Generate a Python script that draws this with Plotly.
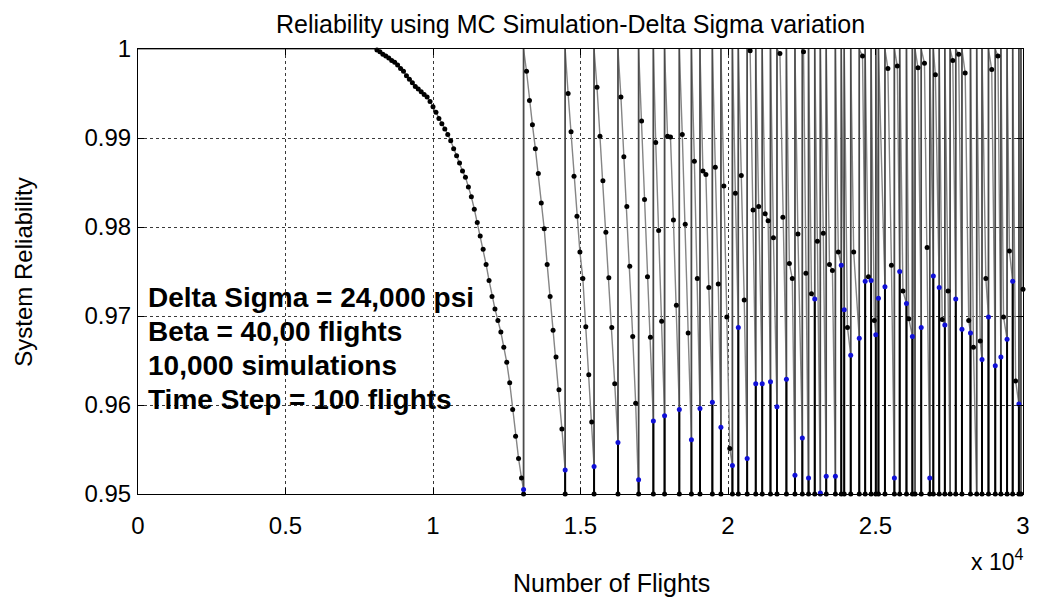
import plotly.graph_objects as go

# ---------------- data ----------------
TIME_STEP = 100          # flights between evaluations
FLOOR = 0.95             # lowest reliability shown / reset threshold

# first cycle: reliability is 1 from flight 0 to 8000, then declines
first_start = 0
first_decline_start = 8000
first_decline = [
    1.0000, 0.9999, 0.9997, 0.9994, 0.9992, 0.9990, 0.9987, 0.9985, 0.9982, 0.9978,
    0.9975, 0.9970, 0.9966, 0.9962, 0.9958, 0.9955, 0.9952, 0.9949, 0.9946, 0.9941,
    0.9935, 0.9929, 0.9922, 0.9916, 0.9910, 0.9904, 0.9897, 0.9888, 0.9880, 0.9872,
    0.9863, 0.9856, 0.9845, 0.9834, 0.9820, 0.9805, 0.9790, 0.9775, 0.9758, 0.9740,
    0.9722, 0.9708, 0.9695, 0.9682, 0.9665, 0.9648, 0.9625, 0.9595, 0.9565, 0.9540,
    0.9518,
]

# flights at which the system is restored (reliability back to 1)
reset_x = [13070, 14480, 15460, 16270, 16970, 17470, 17850, 18350, 18760, 19050,
           19470, 19760, 20150, 20350, 20650, 20940, 21160, 21440, 21660, 21980,
           22270, 22520, 22730, 22940, 23130, 23330, 23640, 23840, 23940, 24160,
           24450, 24650, 24850, 25010, 25100, 25320, 25640, 25820, 26050, 26250,
           26340, 26550, 26840, 26960, 27160, 27350, 27530, 27720, 27930, 28220,
           28430, 28610, 28830, 29060, 29250, 29460, 29650, 29860, 29930]
# reliability reached just before each restore (None = below the axis)
reset_end = [0.9505, 0.9527, 0.9531, 0.9558, 0.9516, 0.9582, 0.9588, 0.9595, 0.9561, 0.9596,
             0.9603, 0.9575, 0.9532, 0.9687, 0.9540, 0.9624, 0.9624, 0.9626, 0.9598, 0.9629,
             0.9521, 0.9563, 0.9518, 0.9719, 0.9501, 0.9520, 0.9520, 0.9757, 0.9707, 0.9656,
             0.9675, 0.9739, 0.9740, 0.9679, 0.9720, 0.9733, 0.9518, 0.9750, 0.9714, 0.9677,
             None, 0.9687, 0.9518, 0.9745, 0.9732, 0.9690, None, 0.9719, 0.9685, 0.9681,
             None, 0.9651, 0.9699, 0.9644, 0.9654, 0.9674, 0.9739, 0.9601, None]

# intermediate evaluations inside the later cycles
dot_x = [13170, 13270, 13370, 13470, 13570, 13670, 13770, 13870, 13970, 14070, 14170, 14270, 14370,
         14580, 14680, 14780, 14880, 14980, 15080, 15180, 15280, 15380,
         15560, 15660, 15760, 15860, 15960, 16060, 16160,
         16370, 16470, 16570, 16670, 16770, 16870,
         17070, 17170, 17270, 17370,
         17550, 17650, 17750,
         17950, 18050, 18150, 18250,
         18450, 18550, 18650,
         18860, 18960,
         19150, 19250, 19350,
         19570, 19670,
         19860, 19960, 20060,
         20250,
         20450, 20550,
         20750, 20850,
         21040,
         21260, 21360,
         21540,
         21760, 21860,
         22080, 22180,
         22370,
         22560, 22640,
         22830, 23030, 23230,
         23440, 23540,
         23740, 24050, 24260, 24560, 24760, 24960,
         25420, 25540, 25740, 25930, 26130,
         26440, 26660, 26750, 27030, 27260, 27460, 27620, 27820,
         28040, 28160, 28320, 28550, 28740, 28940, 29150, 29340, 29540, 29750, 30000]
dot_y = [0.9975, 0.9942, 0.9915, 0.9888, 0.9860, 0.9827, 0.9798, 0.9758, 0.9722, 0.9684, 0.9654, 0.9617, 0.9573,
         0.9950, 0.9907, 0.9857, 0.9812, 0.9772, 0.9742, 0.9688, 0.9634, 0.9581,
         0.9957, 0.9902, 0.9852, 0.9794, 0.9743, 0.9687, 0.9624,
         0.9946, 0.9879, 0.9823, 0.9756, 0.9677, 0.9602,
         0.9919, 0.9831, 0.9744, 0.9676,
         0.9895, 0.9796, 0.9694,
         0.9902, 0.9901, 0.9808, 0.9712,
         0.9904, 0.9803, 0.9681,
         0.9874, 0.9742,
         0.9863, 0.9859, 0.9732,
         0.9867, 0.9736,
         0.9846, 0.9699, 0.9551,
         0.9838,
         0.9858, 0.9718,
         0.9998, 0.9819,
         0.9823,
         0.9815, 0.9807,
         0.9788,
         0.9995, 0.9811,
         0.9759, 0.9742,
         0.9792,
         0.9997, 0.9748,
         0.9725, 0.9784, 0.9793,
         0.9758, 0.9751,
         0.9772, 0.9687, 0.9772, 0.9992, 0.9744, 0.9695,
         0.9978, 0.9757, 0.9981, 0.9728, 0.9697,
         0.9979, 0.9984, 0.9777, 0.9971, 0.9696, 0.9728, 0.9987, 0.9994,
         0.9973, 0.9695, 0.9665, 0.9672, 0.9742, 0.9977, 0.9992, 0.9699, 0.9773, 0.9627, 0.9730]

x_tickvals = [0, 5000, 10000, 15000, 20000, 25000, 30000]
x_ticktext = ["0", "0.5", "1", "1.5", "2", "2.5", "3"]
y_tickvals = [0.95, 0.96, 0.97, 0.98, 0.99, 1.0]
y_ticktext = ["0.95", "0.96", "0.97", "0.98", "0.99", "1"]

title_text = "Reliability using MC Simulation-Delta Sigma variation"
xlabel_text = "Number of Flights"
ylabel_text = "System Reliability"
exponent_text = "x 10<sup>4</sup>"
info_lines = ["Delta Sigma = 24,000 psi", "Beta = 40,00 flights",
              "10,000 simulations", "Time Step = 100 flights"]

# ---------------- build the sawtooth path ----------------
first_x = [first_decline_start + TIME_STEP * i for i in range(len(first_decline))]
path_x = [first_start] + first_x
path_y = [1.0] + first_decline

events = [(x, 0, y) for x, y in zip(dot_x, dot_y)] + \
         [(x, 1, e) for x, e in zip(reset_x, reset_end)]
events.sort(key=lambda e: (e[0], e[1]))
for x, kind, v in events:
    if kind == 0:
        path_x.append(x); path_y.append(v)
    else:
        if v is not None:
            path_x.append(x); path_y.append(v)
        path_x += [x, x]; path_y += [FLOOR, 1.0]

# restore jumps (vertical lines) drawn a little darker
vert_x, vert_y = [], []
for x in reset_x:
    vert_x += [x, x, None]; vert_y += [FLOOR, 1.0, None]

# drop to the floor overlapping the jump: darkest part
seg_x, seg_y = [], []
for x, e in zip(reset_x, reset_end):
    if e is not None:
        seg_x += [x, x, None]; seg_y += [e, FLOOR, None]

blk_x = [x for x, y in zip(first_x, first_decline) if y < 1.0] + dot_x + reset_x
blk_y = [y for y in first_decline if y < 1.0] + dot_y + [FLOOR] * len(reset_x)
blue_x = [x for x, e in zip(reset_x, reset_end) if e is not None]
blue_y = [e for e in reset_end if e is not None]

FONT = "Liberation Sans, Arial, sans-serif"

fig = go.Figure()
fig.add_trace(go.Scatter(x=path_x, y=path_y, mode="lines",
                         line=dict(color="#858585", width=1.4), hoverinfo="skip"))
fig.add_trace(go.Scatter(x=vert_x, y=vert_y, mode="lines",
                         line=dict(color="#4a4a4a", width=1.6), hoverinfo="skip"))
fig.add_trace(go.Scatter(x=seg_x, y=seg_y, mode="lines",
                         line=dict(color="#000000", width=2.0), hoverinfo="skip"))
fig.add_trace(go.Scatter(x=blk_x, y=blk_y, mode="markers", cliponaxis=False,
                         marker=dict(color="#000000", size=5, symbol="circle")))
fig.add_trace(go.Scatter(x=blue_x, y=blue_y, mode="markers", cliponaxis=False,
                         marker=dict(color="#1010d8", size=5, symbol="circle")))

# page is offset by the 8px body margin -> figure is 8px smaller
OFF = 8
W, H = 1042 - OFF, 597 - OFF
PL, PR, PT, PB = 138, 1028, 49, 494          # plot area in page pixels
L, R, T, B = PL - OFF, W - (PR - OFF), PT - OFF, H - (PB - OFF)
pw, ph = PR - PL, PB - PT

def px(xp):
    return (xp - PL) / pw

def py(yp):
    return (PB - yp) / ph

ann = [
    dict(text=title_text, x=px(573), y=py(24), xref="paper", yref="paper",
         xanchor="center", yanchor="middle", showarrow=False,
         font=dict(size=25, color="black", family=FONT)),
    dict(text=xlabel_text, x=px(614), y=py(583), xref="paper", yref="paper",
         xanchor="center", yanchor="middle", showarrow=False,
         font=dict(size=25, color="black", family=FONT)),
    dict(text=ylabel_text, x=px(22), y=py(272), xref="paper", yref="paper",
         xanchor="center", yanchor="middle", showarrow=False, textangle=-90,
         font=dict(size=24, color="black", family=FONT)),
    dict(text=exponent_text, x=px(1030), y=py(560), xref="paper", yref="paper",
         xanchor="right", yanchor="middle", showarrow=False,
         font=dict(size=23, color="black", family=FONT)),
]
for i, line in enumerate(info_lines):
    ann.append(dict(text="<b>%s</b>" % line, x=px(146), y=py(297 + 34 * i),
                    xref="paper", yref="paper", xanchor="left", yanchor="middle",
                    showarrow=False, font=dict(size=28, color="black", family=FONT)))

axis_common = dict(showline=True, linecolor="black", linewidth=1, mirror="ticks",
                   ticks="inside", ticklen=6, tickcolor="black",
                   showgrid=True, gridcolor="#3a3a3a", gridwidth=1, griddash="3px,3px",
                   zeroline=False, tickfont=dict(size=24, color="black", family=FONT))

fig.update_layout(
    width=W, height=H, margin=dict(l=L, r=R, t=T, b=B),
    paper_bgcolor="white", plot_bgcolor="white", showlegend=False,
    annotations=ann,
    xaxis=dict(range=[0, 30000], tickvals=x_tickvals, ticktext=x_ticktext,
               ticklabelstandoff=10, **axis_common),
    yaxis=dict(range=[0.95, 1.0], tickvals=y_tickvals, ticktext=y_ticktext,
               ticklabelstandoff=1, **axis_common),
)

fig.write_html("out.html")
